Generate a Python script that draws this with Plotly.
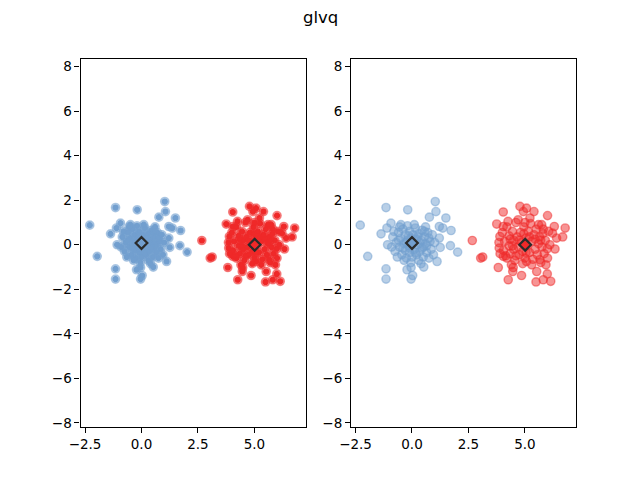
import plotly.graph_objects as go

# ---- data ----
blue_x = [-1.15, -0.19, 1.03, 1.06, 0.77, 1.50, -2.29, -0.93, -1.11, -1.37, -0.49, 1.21, 1.36, 1.73,
          1.21, 1.70, 2.02, 1.25, -1.08, -1.96, 1.11, 0.52, -1.15, -1.15, -0.22, -0.04, 0.03, -0.04,
          -0.85, -0.7, -0.75, -0.6, -0.55, -0.5, -0.45, -0.4, -0.35, -0.3, -0.3, -0.25, -0.2, -0.15,
          -0.1, -0.1, -0.05, 0.0, 0.05, 0.05, 0.1, 0.15, 0.2, 0.2, 0.25, 0.3, 0.3, 0.35, 0.4, 0.45,
          0.5, 0.5, 0.55, 0.6, 0.65, 0.7, 0.75, 0.8, 0.85, 0.9, 0.95, 1.0, -0.65, -0.8, -0.9, -0.35,
          0.1, -0.2, 0.6, 0.4, -0.05, 0.75, -0.55, 0.25, -0.15, 0.45, 0.0, -0.4, 0.15, -0.25, 0.35,
          0.65, -0.6, 0.55, -0.1]
blue_y = [1.67, 1.57, 1.94, 1.49, 1.24, 1.20, 0.88, 0.97, 0.75, 0.49, 0.90, 0.82, 0.75, 0.64,
          0.30, -0.04, -0.33, -0.12, 0.0, -0.52, -0.75, -1.0, -1.08, -1.54, -1.12, -1.02, -1.38, -1.54,
          0.35, 0.1, -0.3, 0.55, -0.1, 0.3, -0.45, 0.7, 0.05, -0.25, 0.45, -0.6, 0.2, -0.05,
          0.6, -0.35, 0.3, -0.55, 0.45, 0.1, -0.2, 0.75, 0.25, -0.45, 0.0, 0.5, -0.7, -0.3, 0.2, 0.65,
          -0.1, -0.55, 0.35, 0.05, -0.35, 0.55, -0.6, 0.15, -0.2, 0.45, -0.45, 0.1, -0.55, 0.6, -0.1, -0.7,
          0.9, 0.85, 0.8, -0.85, -0.8, 0.3, 0.8, 0.35, 0.4, -0.15, 0.0, -0.15, -0.35, 0.1, 0.1,
          -0.05, 0.2, 0.6, -0.15]

red_x = [2.67, 3.13, 3.04, 4.04, 4.78, 5.07, 5.40, 4.93, 6.00, 5.22, 4.70, 3.75, 4.04, 5.74, 6.30,
         6.78, 5.81, 6.22, 6.67, 6.40, 6.33, 5.99, 3.82, 4.48, 4.46, 4.85, 4.26, 5.52, 5.93, 5.49,
         5.81, 5.99, 6.14, 3.89, 3.86, 4.04, 5.66, 5.07,
         4.0, 4.1, 4.05, 4.2, 4.2, 4.3, 4.3, 4.35, 4.45, 4.5, 4.5, 4.55, 4.6, 4.65, 4.7, 4.75, 4.8,
         4.85, 4.9, 4.95, 5.0, 5.05, 5.1, 5.15, 5.2, 5.25, 5.3, 5.35, 5.4, 5.45, 5.5, 5.55, 5.6, 5.65,
         5.7, 5.75, 5.8, 5.85, 5.9, 6.0, 6.05, 6.1, 3.9, 3.85, 4.4, 4.9, 5.3, 4.25, 5.0, 5.6, 4.6,
         5.2, 4.45, 5.45, 4.15, 4.75, 5.05, 5.7, 4.35, 4.95]
red_y = [0.19, -0.55, -0.60, 1.47, 1.72, 1.64, 1.49, 1.49, 1.31, 1.20, 1.12, 0.93, 0.82, 0.90, 0.82,
         0.75, 0.70, 0.52, 0.35, 0.30, -0.19, -0.18, -1.02, -1.02, -1.20, -1.38, -1.57, -1.20, -0.90, -1.67,
         -1.57, -1.31, -1.64, 0.37, -0.15, -0.52, -0.67, -0.75,
         0.55, 0.15, -0.25, 0.8, -0.6, 0.4, -0.05, -0.4, 0.6, 0.2, -0.2, -0.7, 1.0, 0.35, -0.1, -0.45, 0.55,
         0.1, -0.3, 0.8, -0.6, 0.3, -0.05, 0.6, -0.35, 0.95, 0.15, -0.65, 0.45, -0.2, 0.7, -0.45, 0.05, 0.35,
         -0.8, -0.1, 0.5, -0.4, 0.2, -0.6, 0.6, 0.0, -0.4, 0.1, -0.9, -0.85, -0.9, 1.05, 1.0, 0.9, -0.5,
         0.35, -0.05, 0.25, -0.5, 0.2, -0.35, 0.2, 0.25, 0.5]

proto_x = [0.0, 5.01]
proto_y = [0.08, 0.0]
proto_label = [0, 1]

x_ticks = [-2.5, 0.0, 2.5, 5.0]
y_ticks = [-8, -6, -4, -2, 0, 2, 4, 6, 8]

BLUE = (114, 159, 207)
RED = (239, 41, 41)


def rgba(c, a):
    return f"rgba({c[0]},{c[1]},{c[2]},{a})"


fig = go.Figure()

for k, (xa, ya) in enumerate([("x", "y"), ("x2", "y2")]):
    for xs, ys, col in [(blue_x, blue_y, BLUE), (red_x, red_y, RED)]:
        fig.add_trace(go.Scatter(
            x=xs, y=ys, mode="markers", xaxis=xa, yaxis=ya, showlegend=False,
            marker=dict(size=8.3, color=rgba(col, 0.5),
                        line=dict(color=rgba(col, 0.5), width=1.4))))
    if k == 0:
        for xs, ys, col in [(blue_x, blue_y, BLUE), (red_x, red_y, RED)]:
            fig.add_trace(go.Scatter(
                x=xs, y=ys, mode="markers", xaxis=xa, yaxis=ya, showlegend=False,
                marker=dict(size=5.0, color=rgba(col, 1),
                            line=dict(color=rgba(col, 1), width=1.2))))
    fig.add_trace(go.Scatter(
        x=proto_x, y=proto_y, mode="markers", xaxis=xa, yaxis=ya, showlegend=False,
        marker=dict(symbol="diamond", size=9,
                    color=[rgba(BLUE if l == 0 else RED, 1) for l in proto_label],
                    line=dict(color="#2b2b2b", width=2.2))))

axis_common = dict(showline=True, linecolor="black", linewidth=1.1, mirror=True,
                   ticks="outside", ticklen=5, tickwidth=1.1, tickcolor="black",
                   showgrid=False, zeroline=False, automargin=False,
                   tickfont=dict(family="DejaVu Sans", size=13.5, color="black"))

xr = [-2.70, 7.26]
yr = [-8.18, 8.36]
fig.update_layout(
    width=640, height=480,
    margin=dict(l=0, r=0, t=0, b=0, pad=0, autoexpand=False),
    paper_bgcolor="white", plot_bgcolor="white",
    font=dict(family="DejaVu Sans", color="black"),
    xaxis=dict(domain=[80.5 / 640, 305.5 / 640], range=xr, tickvals=x_ticks, tickformat=".1f",
               anchor="y", **axis_common),
    yaxis=dict(domain=[1 - 427 / 480, 1 - 58.5 / 480], range=yr, tickvals=y_ticks,
               anchor="x", **axis_common),
    xaxis2=dict(domain=[351 / 640, 576 / 640], range=xr, tickvals=x_ticks, tickformat=".1f",
                anchor="y2", **axis_common),
    yaxis2=dict(domain=[1 - 427 / 480, 1 - 58.5 / 480], range=yr, tickvals=y_ticks,
                anchor="x2", **axis_common),
    annotations=[dict(text="glvq", x=0.5, y=1 - 18 / 480, xref="paper", yref="paper",
                      showarrow=False, xanchor="center", yanchor="middle",
                      font=dict(family="DejaVu Sans", size=16.5, color="black"))],
)

fig.write_html("out.html")
